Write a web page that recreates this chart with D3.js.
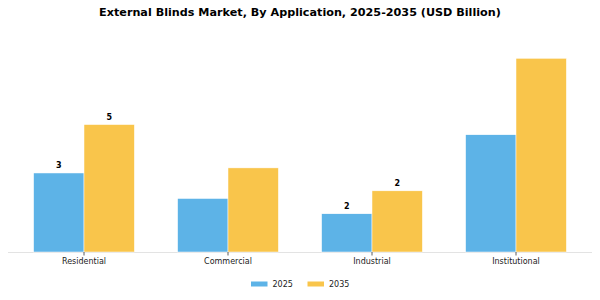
<!DOCTYPE html>
<html>
<head>
<meta charset="utf-8">
<script src="https://cdn.jsdelivr.net/npm/d3@7"></script>
<style>
  body { margin: 0; background: #fff; }
  svg { font-family: "DejaVu Sans", sans-serif; }
</style>
</head>
<body>
<script>
var categories = ["Residential", "Commercial", "Industrial", "Institutional"];
var years = ["2025", "2035"];
var values2025 = [3.1, 2.1, 1.5, 4.6];
var values2035 = [5.0, 3.3, 2.4, 7.6];
// which bars carry a value label
var showLabel2025 = [true, false, true, false];
var showLabel2035 = [true, false, true, false];
var colors = ["#5db3e7", "#f9c54b"];

var width = 600, height = 300;
var baseY = 252;

var svg = d3.select("body")
    .append("svg")
    .attr("width", width)
    .attr("height", height);

var data = categories.map(function(c, i) {
    return {
        name: c,
        bars: [
            {year: years[0], value: values2025[i], label: showLabel2025[i]},
            {year: years[1], value: values2035[i], label: showLabel2035[i]}
        ]
    };
});

var x0 = d3.scaleBand()
    .domain(categories)
    .range([12, 588])
    .paddingInner(0.3)
    .paddingOuter(0.15);

var x1 = d3.scaleBand()
    .domain(years)
    .range([0, x0.bandwidth()]);

var y = d3.scaleLinear()
    .domain([0, 8])
    .range([baseY, baseY - 8 * 25.49]);

var color = d3.scaleOrdinal().domain(years).range(colors);

// title
svg.append("text")
    .attr("x", width / 2)
    .attr("y", 16)
    .attr("text-anchor", "middle")
    .attr("font-size", 11.2)
    .attr("font-weight", "bold")
    .attr("fill", "#000")
    .text("External Blinds Market, By Application, 2025-2035 (USD Billion)");

// baseline
svg.append("line")
    .attr("x1", 8).attr("x2", 592)
    .attr("y1", baseY + 0.5).attr("y2", baseY + 0.5)
    .attr("stroke", "#e3e3e3")
    .attr("stroke-width", 1);

var group = svg.selectAll(".group")
    .data(data)
    .enter()
    .append("g")
    .attr("class", "group")
    .attr("transform", function(d) {
        return "translate(" + x0(d.name) + ",0)";
    });

group.selectAll("rect")
    .data(function(d) { return d.bars; })
    .enter()
    .append("rect")
    .attr("x", function(d) { return x1(d.year); })
    .attr("y", function(d) { return y(d.value); })
    .attr("width", x1.bandwidth())
    .attr("height", function(d) { return baseY - y(d.value); })
    .attr("fill", function(d) { return color(d.year); })
    .attr("stroke", "#fff")
    .attr("stroke-width", 0.5);

// value labels
group.selectAll(".val")
    .data(function(d) { return d.bars.filter(function(b) { return b.label; }); })
    .enter()
    .append("text")
    .attr("class", "val")
    .attr("x", function(d) { return x1(d.year) + x1.bandwidth() / 2; })
    .attr("y", function(d) { return y(d.value) - 5; })
    .attr("text-anchor", "middle")
    .attr("font-size", 8)
    .attr("font-weight", "bold")
    .attr("fill", "#000")
    .text(function(d) { return d3.format(".0f")(d.value); });

// x axis ticks and labels
var ticks = svg.selectAll(".tick")
    .data(categories)
    .enter()
    .append("g")
    .attr("class", "tick")
    .attr("transform", function(d) {
        return "translate(" + (x0(d) + x0.bandwidth() / 2) + "," + baseY + ")";
    });

ticks.append("line")
    .attr("y1", 0).attr("y2", 3.5)
    .attr("stroke", "#333")
    .attr("stroke-width", 0.8);

ticks.append("text")
    .attr("y", 11.5)
    .attr("text-anchor", "middle")
    .attr("font-size", 8)
    .attr("fill", "#222")
    .text(function(d) { return d; });

// legend
var legend = svg.selectAll(".legend")
    .data(years)
    .enter()
    .append("g")
    .attr("class", "legend")
    .attr("transform", function(d, i) {
        return "translate(" + (251 + i * 56.5) + ",284)";
    });

legend.append("rect")
    .attr("x", 0)
    .attr("y", -2.5)
    .attr("width", 16.5)
    .attr("height", 5)
    .attr("fill", function(d) { return color(d); });

legend.append("text")
    .attr("x", 21.5)
    .attr("y", 3)
    .attr("font-size", 8)
    .attr("fill", "#222")
    .text(function(d) { return d; });
</script>
</body>
</html>
